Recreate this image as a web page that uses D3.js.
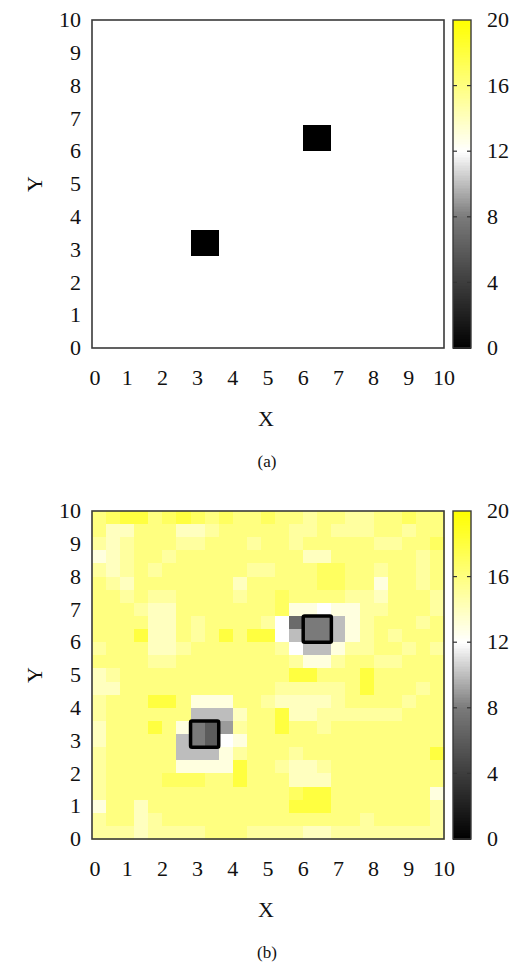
<!DOCTYPE html>
<html>
<head>
<meta charset="utf-8">
<script src="https://cdn.jsdelivr.net/npm/d3@7/dist/d3.min.js"></script>
<style>
  body { margin: 0; background: #fff; }
  text { font-family: "Times New Roman", "Liberation Serif", Times, serif; fill: #111; }
</style>
</head>
<body>
<svg id="chart" width="517" height="962"></svg>
<script>
// axis and colour bar ticks
const axisTicks = [0, 1, 2, 3, 4, 5, 6, 7, 8, 9, 10];
const colorTicks = [0, 4, 8, 12, 16, 20];
const colorMarks = [4, 8, 12, 16];

// palette: black -> grey -> white -> yellow
const paletteStops = [0, 8, 12, 20];
const paletteColors = ['#000000', '#7a7a7a', '#ffffff', '#ffff00'];

// 25 x 25 cells of 0.4 units
const cellSize = 0.4;

// panel (a): flat background with two 2x2 black targets (column i, row j from bottom)
const backgroundA = 12;
const targetCellsA = [[7, 7], [8, 7], [7, 8], [8, 8], [15, 15], [16, 15], [15, 16], [16, 16]];
const targetValueA = 0;

// panel (b): estimated map, rows from top (j = 24) to bottom (j = 0)
const gridB = [
  [16,17,18,18,16,17,18,17,16,17,16,16,17,16,16,15,16,16,15,15,16,16,17,16,16],
  [16,14,14,16,16,16,14,14,15,16,16,16,16,16,15,15,16,15,15,15,16,16,15,16,16],
  [15,14,15,16,16,16,15,15,16,16,16,15,16,16,15,16,16,16,16,16,15,15,16,16,17],
  [13,14,15,16,16,15,16,16,16,16,16,16,16,16,16,14,14,16,16,16,16,16,16,15,16],
  [15,14,15,16,15,16,16,16,16,16,16,15,15,16,16,16,17,17,16,16,15,16,16,15,16],
  [16,15,14,16,16,16,16,16,16,16,14,16,16,16,16,16,17,17,16,16,13,16,16,15,16],
  [16,16,15,16,15,15,16,16,16,16,15,16,16,17,16,16,16,16,15,15,14,16,16,16,15],
  [16,16,16,15,14,14,16,16,16,16,16,16,16,17,13,13,12,13,13,15,15,16,16,16,15],
  [16,16,16,16,14,14,16,15,16,16,16,16,15,12, 7, 8, 8,10,13,15,16,16,16,15,16],
  [16,16,16,18,14,14,16,15,16,18,16,18,18,12,10, 8, 8,10,13,15,16,15,16,16,16],
  [15,16,16,16,14,14,15,16,16,16,16,16,16,15,12,10,10,13,15,15,16,16,15,16,15],
  [16,16,16,16,15,15,16,16,16,16,16,16,16,16,15,13,13,15,16,16,15,15,16,16,16],
  [14,15,16,16,16,16,16,16,16,16,16,16,16,16,18,18,16,16,16,18,16,16,16,16,16],
  [14,14,16,16,16,16,16,16,16,16,16,16,16,15,15,15,15,15,16,18,16,16,16,15,16],
  [15,16,16,16,18,18,16,13,13,13,16,16,15,14,14,14,14,15,16,16,16,16,15,16,16],
  [15,16,16,16,16,16,16,10,10,10,14,16,16,18,14,14,15,15,15,15,15,15,16,16,16],
  [14,16,16,16,18,16,13, 8, 6, 9,15,16,16,18,16,16,15,16,16,16,16,16,16,16,16],
  [14,16,16,16,16,16,10, 8, 6,12,13,16,16,16,16,16,16,16,16,16,16,16,16,16,16],
  [15,16,16,16,16,16,10,10,10,13,15,16,16,16,15,16,16,16,16,16,16,16,16,16,18],
  [15,16,16,16,16,16,13,13,13,13,18,16,16,15,14,14,15,16,16,16,16,16,16,16,16],
  [15,16,16,16,16,17,17,17,16,16,18,16,16,16,14,14,14,16,16,16,16,16,16,16,16],
  [15,16,16,16,16,16,16,16,16,16,16,16,16,16,17,18,18,16,16,16,16,16,16,16,13],
  [13,16,16,14,16,16,16,16,16,16,16,16,16,16,18,18,18,16,16,16,16,16,16,16,15],
  [15,16,16,14,15,16,16,16,16,16,16,16,16,16,16,16,16,16,16,15,16,16,16,16,15],
  [15,15,15,14,15,15,15,15,16,16,16,15,15,15,15,14,14,15,15,15,15,15,15,15,15]
];

// outlined targets in panel (b)
const boxesB = [
  { x: 2.8, y: 2.8, size: 0.8 },
  { x: 6.0, y: 6.0, size: 0.8 }
];

// build panel (a) grid
const nCells = gridB.length;
const gridA = d3.range(nCells).map(() => d3.range(nCells).map(() => backgroundA));
targetCellsA.forEach(([i, j]) => { gridA[nCells - 1 - j][i] = targetValueA; });

const color = d3.scaleLinear().domain(paletteStops).range(paletteColors).clamp(true);

const svg = d3.select('#chart');
const plotLeft = 92, plotRight = 444, plotHeight = 328;
const barLeft = 453, barWidth = 18;

const panels = [
  { label: '(a)', top: 20, grid: gridA, boxes: [] },
  { label: '(b)', top: 511, grid: gridB, boxes: boxesB }
];

panels.forEach(p => drawPanel(p));

function drawPanel(p) {
  const bottom = p.top + plotHeight;
  const x = d3.scaleLinear().domain([0, 10]).range([plotLeft, plotRight]);
  const y = d3.scaleLinear().domain([0, 10]).range([bottom, p.top]);
  const g = svg.append('g');

  // heatmap cells
  const cells = [];
  p.grid.forEach((row, r) => {
    row.forEach((v, i) => cells.push({ i: i, j: p.grid.length - 1 - r, v: v }));
  });
  g.append('g').selectAll('rect')
    .data(cells)
    .join('rect')
    .attr('x', d => x(d.i * cellSize))
    .attr('y', d => y((d.j + 1) * cellSize))
    .attr('width', x(cellSize) - x(0) + 0.6)
    .attr('height', y(0) - y(cellSize) + 0.6)
    .attr('fill', d => color(d.v))
    .attr('shape-rendering', 'crispEdges');

  // target outlines
  g.append('g').selectAll('rect')
    .data(p.boxes)
    .join('rect')
    .attr('x', d => x(d.x))
    .attr('y', d => y(d.y + d.size))
    .attr('width', d => x(d.size) - x(0))
    .attr('height', d => y(0) - y(d.size))
    .attr('rx', 1.5)
    .attr('fill', 'none')
    .attr('stroke', '#000')
    .attr('stroke-width', 3.5);

  // frame
  g.append('rect')
    .attr('x', plotLeft).attr('y', p.top)
    .attr('width', plotRight - plotLeft).attr('height', plotHeight)
    .attr('fill', 'none').attr('stroke', '#3a3a3a').attr('stroke-width', 1.6);

  // tick labels
  g.append('g').selectAll('text')
    .data(axisTicks)
    .join('text')
    .attr('x', d => x(d) + (d === 0 ? 3 : 0))
    .attr('y', bottom + 37)
    .attr('text-anchor', 'middle')
    .attr('font-size', 22)
    .text(d => d);

  g.append('g').selectAll('text')
    .data(axisTicks)
    .join('text')
    .attr('x', 81)
    .attr('y', d => y(d))
    .attr('dy', '0.33em')
    .attr('text-anchor', 'end')
    .attr('font-size', 22)
    .text(d => d);

  // axis titles and caption
  g.append('text')
    .attr('x', (plotLeft + plotRight) / 2 - 2)
    .attr('y', bottom + 78)
    .attr('text-anchor', 'middle')
    .attr('font-size', 22)
    .text('X');

  g.append('text')
    .attr('transform', `translate(42,${p.top + plotHeight / 2}) rotate(-90)`)
    .attr('text-anchor', 'middle')
    .attr('font-size', 22)
    .text('Y');

  g.append('text')
    .attr('x', (plotLeft + plotRight) / 2 - 1)
    .attr('y', bottom + 119)
    .attr('text-anchor', 'middle')
    .attr('font-size', 17)
    .text(p.label);

  // colour bar
  const cy = d3.scaleLinear().domain([0, 20]).range([bottom, p.top]);
  const step = 0.1;
  g.append('g').selectAll('rect')
    .data(d3.range(0, 20, step))
    .join('rect')
    .attr('x', barLeft)
    .attr('y', d => cy(d + step))
    .attr('width', barWidth)
    .attr('height', cy(0) - cy(step) + 0.5)
    .attr('fill', d => color(d + step / 2))
    .attr('shape-rendering', 'crispEdges');

  g.append('rect')
    .attr('x', barLeft).attr('y', p.top)
    .attr('width', barWidth).attr('height', plotHeight)
    .attr('fill', 'none').attr('stroke', '#3a3a3a').attr('stroke-width', 1.4);

  const marks = g.append('g').attr('stroke', '#333').attr('stroke-width', 1.2);
  colorMarks.forEach(v => {
    marks.append('line').attr('x1', barLeft).attr('x2', barLeft + 4).attr('y1', cy(v)).attr('y2', cy(v));
    marks.append('line').attr('x1', barLeft + barWidth - 4).attr('x2', barLeft + barWidth).attr('y1', cy(v)).attr('y2', cy(v));
  });

  g.append('g').selectAll('text')
    .data(colorTicks)
    .join('text')
    .attr('x', 487)
    .attr('y', d => cy(d))
    .attr('dy', '0.33em')
    .attr('font-size', 22)
    .text(d => d);
}
</script>
</body>
</html>
